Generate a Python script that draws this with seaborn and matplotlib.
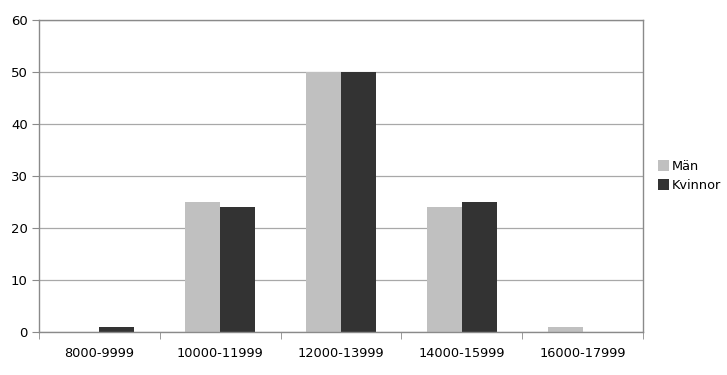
import matplotlib
matplotlib.use("Agg")
import matplotlib.pyplot as plt
import seaborn as sns
import pandas as pd
from matplotlib.patches import Patch

categories = ["8000-9999", "10000-11999", "12000-13999", "14000-15999", "16000-17999"]
man = [0, 25, 50, 24, 1]
kvinnor = [1, 24, 50, 25, 0]
series = ["Män", "Kvinnor"]
colors = ["#c0c0c0", "#333333"]

df = pd.DataFrame({
    "cat": categories * 2,
    "val": man + kvinnor,
    "serie": [series[0]] * len(categories) + [series[1]] * len(categories),
})

sns.set_style("white")
plt.rcParams['font.family'] = ['DejaVu Sans']

fig = plt.figure(figsize=(7.27, 3.75), dpi=100)
ax = fig.add_axes([39/727, 43/375, (643-39)/727, (332-20)/375])

sns.barplot(data=df, x="cat", y="val", hue="serie", palette=colors, width=0.58,
            gap=0, saturation=1, ax=ax, legend=False, edgecolor="none", linewidth=0)

ax.set_xlim(-0.5, len(categories) - 0.5)
ax.set_ylim(0, 60)
ax.set_yticks(range(0, 61, 10))
ax.yaxis.grid(True, color="#a8a8a8", linewidth=0.9)
ax.set_axisbelow(True)
ax.set_xlabel("")
ax.set_ylabel("")

for s in ["left", "bottom", "right", "top"]:
    ax.spines[s].set_color("#8a8a8a")
    ax.spines[s].set_linewidth(1.0)

ax.tick_params(axis="y", left=True, length=5, color="#8a8a8a", labelsize=9.5,
               labelcolor="black", pad=3)
ax.tick_params(axis="x", bottom=False, labelsize=9.3, labelcolor="black", pad=7)
ax.set_xticks([i - 0.5 for i in range(len(categories) + 1)], minor=True)
ax.tick_params(axis="x", which="minor", bottom=True, length=5, color="#8a8a8a")

handles = [Patch(facecolor=c, edgecolor="none", label=l) for c, l in zip(colors, series)]
leg = fig.legend(handles=handles, loc="center left", bbox_to_anchor=(658/727, 1 - 176/375),
                 frameon=False, fontsize=9.3, handlelength=0.85, handleheight=0.85,
                 handletextpad=0.25, labelspacing=0.45, borderaxespad=0, borderpad=0)
for t in leg.get_texts():
    t.set_color("black")

fig.savefig("out.png", dpi=100)
